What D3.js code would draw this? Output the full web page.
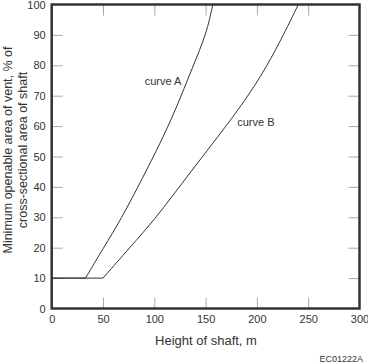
<!DOCTYPE html>
<html><head><meta charset="utf-8">
<script src="https://cdn.jsdelivr.net/npm/d3@7"></script>
<style>body{margin:0;background:#fff}svg{display:block}text{font-family:"Liberation Sans",Arial,sans-serif;fill:#333}</style>
</head><body><svg id="c" width="368" height="363"></svg>
<script>
const xTicks = [0, 50, 100, 150, 200, 250, 300];
const yTicks = [0, 10, 20, 30, 40, 50, 60, 70, 80, 90, 100];
const curveAHeight = [0, 33, 50.5, 67.2, 89.3, 105.6, 120.8, 137.4, 151, 157];
const curveAVent   = [10, 10, 20, 29.1, 43.4, 54.3, 65.3, 79.5, 90.5, 100];
const curveBHeight = [0, 50, 76, 101, 131, 162, 189, 209.5, 226.7, 240.4];
const curveBVent   = [10, 10, 20, 29.5, 43, 56.5, 68.6, 79.5, 90.5, 100];
const labels = [{t:"curve A", h:108.5, v:73.5}, {t:"curve B", h:199, v:60}];

const svg = d3.select("#c");
const x = d3.scaleLinear().domain([0, 300]).range([51.7, 359.5]);
const y = d3.scaleLinear().domain([0, 100]).range([308.5, 4.5]);

// inner ticks
const tk = 11, tc = "#aaa";
const inner = xTicks.slice(1, -1), innerY = yTicks.slice(1, -1);
svg.append("g").attr("transform", `translate(0,${y(0)})`)
  .call(d3.axisTop(x).tickValues(inner).tickSize(tk).tickFormat(""))
  .call(g => { g.select(".domain").remove(); g.selectAll("line").attr("stroke", tc); });
svg.append("g").attr("transform", `translate(0,${y(100)})`)
  .call(d3.axisBottom(x).tickValues(inner).tickSize(tk).tickFormat(""))
  .call(g => { g.select(".domain").remove(); g.selectAll("line").attr("stroke", tc); });
svg.append("g").attr("transform", `translate(${x(0)},0)`)
  .call(d3.axisRight(y).tickValues(innerY).tickSize(tk).tickFormat(""))
  .call(g => { g.select(".domain").remove(); g.selectAll("line").attr("stroke", tc); });
svg.append("g").attr("transform", `translate(${x(300)},0)`)
  .call(d3.axisLeft(y).tickValues(innerY).tickSize(tk).tickFormat(""))
  .call(g => { g.select(".domain").remove(); g.selectAll("line").attr("stroke", tc); });

// tick labels
svg.append("g").attr("transform", `translate(0,${y(0)})`)
  .call(d3.axisBottom(x).tickValues(xTicks).tickSize(0).tickPadding(7))
  .call(g => { g.select(".domain").remove(); g.selectAll("text").style("font-size","11px").attr("fill","#333"); });
svg.append("g").attr("transform", `translate(${x(0)},0)`)
  .call(d3.axisLeft(y).tickValues(yTicks).tickSize(0).tickPadding(6))
  .call(g => { g.select(".domain").remove(); g.selectAll("text").style("font-size","11px").attr("fill","#333"); });

// curves
const line = d3.line().x(d => x(d[0])).y(d => y(d[1]));
function draw(hs, vs) {
  const pts = hs.map((h, i) => [h, vs[i]]);
  svg.append("path").attr("d", line.curve(d3.curveLinear)(pts.slice(0, 2)))
    .attr("fill","none").attr("stroke","#333").attr("stroke-width",1);
  svg.append("path").attr("d", line.curve(d3.curveBasis)(pts.slice(1)))
    .attr("fill","none").attr("stroke","#333").attr("stroke-width",1);
}
draw(curveAHeight, curveAVent);
draw(curveBHeight, curveBVent);

labels.forEach(l => svg.append("text").attr("x", x(l.h)).attr("y", y(l.v)).attr("text-anchor","middle")
  .style("font-size","11px").text(l.t));

// frame
svg.append("rect").attr("x", x(0)).attr("y", y(100)).attr("width", x(300)-x(0)).attr("height", y(0)-y(100))
  .attr("fill","none").attr("stroke","#333").attr("stroke-width",2.5);

// titles
svg.append("text").attr("x", 206).attr("y", 345).attr("text-anchor","middle").style("font-size","13px").text("Height of shaft, m");
const yt = svg.append("text").attr("transform","translate(12,150) rotate(-90)").attr("text-anchor","middle").style("font-size","12.5px");
yt.append("tspan").attr("x",0).attr("dy",0).text("Minimum openable area of vent, % of");
yt.append("tspan").attr("x",0).attr("dy",15).text("cross-sectional area of shaft");
svg.append("text").attr("x", 363).attr("y", 362).attr("text-anchor","end").style("font-size","9px").text("EC01222A");
</script></body></html>
